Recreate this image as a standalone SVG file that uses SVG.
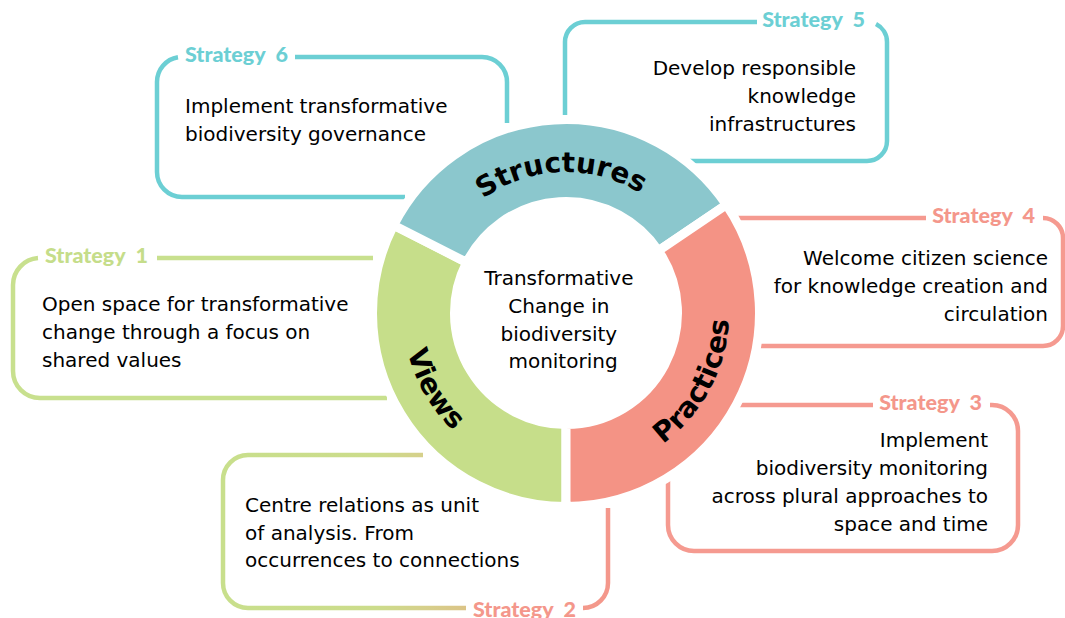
<svg xmlns="http://www.w3.org/2000/svg" width="1065" height="618" viewBox="0 0 1065 618">
  <style>
    .box { fill: none; stroke-width: 4.5; stroke-linecap: butt; }
    .teal { stroke: #6ccfd4; }
    .pink { stroke: #f59a90; }
    .green { stroke: #c8e08e; }
    .label { font-family: Lato, "Liberation Sans", sans-serif; font-weight: 900; font-size: 21.5px; }
    .lt { fill: #6ccfd4; }
    .lp { fill: #f4978b; }
    .lg { fill: #c5dd8a; }
    .body { font-family: "DejaVu Sans", Verdana, sans-serif; font-size: 20px; fill: #000; }
    .seg { stroke: #fff; stroke-width: 9; }
    .ringword { font-family: "DejaVu Sans", Verdana, sans-serif; font-weight: 700; font-size: 28px; fill: #000; }
  </style>
  <defs>
    <linearGradient id="mixStroke" gradientUnits="userSpaceOnUse" x1="223" y1="0" x2="608" y2="0">
      <stop offset="0" stop-color="#c8df8c"/>
      <stop offset="0.4" stop-color="#ccdc8b"/>
      <stop offset="0.52" stop-color="#d6d08b"/>
      <stop offset="0.63" stop-color="#dbc487"/>
      <stop offset="0.85" stop-color="#f29c8c"/>
      <stop offset="1" stop-color="#f4978b"/>
    </linearGradient>
    <path id="arcStructures" d="M433.5,264.8 A141,141 0 0 1 694.8,255.7"/>
    <path id="arcViews" d="M412.8,257.3 A163,163 0 0 0 537.7,473.5"/>
    <path id="arcPractices" d="M599.9,472.4 A163,163 0 0 0 717.1,251.9"/>
  </defs>

  <rect width="1065" height="618" fill="#fff"/>

  <!-- Strategy 6 -->
  <g id="strategy6">
    <path class="box teal" d="M405,197 H182 A25,25 0 0 1 157,172 V82 A25,25 0 0 1 178,57.3 M295,57 H482 A25,25 0 0 1 507,82 V123"/>
    <text class="label lt" x="185" y="62" xml:space="preserve">Strategy  6</text>
    <text class="body" x="185" y="113">Implement transformative</text>
    <text class="body" x="185" y="141">biodiversity governance</text>
  </g>

  <!-- Strategy 5 -->
  <g id="strategy5">
    <path class="box teal" d="M757,22 H585 A20,20 0 0 0 565,42 V115 M690,161 H867 A20,20 0 0 0 887,141 V42 A20,20 0 0 0 876,24.1"/>
    <text class="label lt" x="865" y="27" text-anchor="end" xml:space="preserve">Strategy  5</text>
    <text class="body" x="856" y="75" text-anchor="end">Develop responsible</text>
    <text class="body" x="856" y="103" text-anchor="end">knowledge</text>
    <text class="body" x="856" y="131" text-anchor="end">infrastructures</text>
  </g>

  <!-- Strategy 4 -->
  <g id="strategy4">
    <path class="box pink" d="M738,218 H926 M1043,218 A20,20 0 0 1 1063,238 V326 A20,20 0 0 1 1043,346 H760"/>
    <text class="label lp" x="1035" y="223" text-anchor="end" xml:space="preserve">Strategy  4</text>
    <text class="body" x="1048" y="265" text-anchor="end">Welcome citizen science</text>
    <text class="body" x="1048" y="293" text-anchor="end">for knowledge creation and</text>
    <text class="body" x="1048" y="321" text-anchor="end">circulation</text>
  </g>

  <!-- Strategy 3 -->
  <g id="strategy3">
    <path class="box pink" d="M738,405 H873 M990,405 H992 A26,26 0 0 1 1018,431 V525 A26,26 0 0 1 992,551 H694 A26,26 0 0 1 668,525 V480"/>
    <text class="label lp" x="982" y="410" text-anchor="end" xml:space="preserve">Strategy  3</text>
    <text class="body" x="988" y="447" text-anchor="end">Implement</text>
    <text class="body" x="988" y="475" text-anchor="end">biodiversity monitoring</text>
    <text class="body" x="988" y="503" text-anchor="end">across plural approaches to</text>
    <text class="body" x="988" y="531" text-anchor="end">space and time</text>
  </g>

  <!-- Strategy 2 -->
  <g id="strategy2">
    <path class="box" stroke="url(#mixStroke)" d="M423,455 H248 A25,25 0 0 0 223,480 V583 A25,25 0 0 0 248,608 H466 M583,608 A25,25 0 0 0 608,583 V508"/>
    <text class="label lp" x="473" y="617" xml:space="preserve">Strategy  2</text>
    <text class="body" x="245" y="512">Centre relations as unit</text>
    <text class="body" x="245" y="540">of analysis. From</text>
    <text class="body" x="245" y="567">occurrences to connections</text>
  </g>

  <!-- Strategy 1 -->
  <g id="strategy1">
    <path class="box green" d="M373,258 H157 M38,258.1 A27,27 0 0 0 13,285 V371 A27,27 0 0 0 40,398 H387"/>
    <text class="label lg" x="45" y="263" xml:space="preserve">Strategy  1</text>
    <text class="body" x="42" y="311">Open space for transformative</text>
    <text class="body" x="42" y="339">change through a focus on</text>
    <text class="body" x="42" y="367">shared values</text>
  </g>

  <!-- Ring segments -->
  <g id="views">
    <path class="seg" fill="#c6de8a" d="M566,506.5 A193.5,193.5 0 0 1 393.6,225.15 L466.65,262.38 A111.5,111.5 0 0 0 566,424.5 Z"/>
    <text class="ringword"><textPath href="#arcViews" startOffset="50%" text-anchor="middle">Views</textPath></text>
  </g>
  <g id="structures">
    <path class="seg" fill="#8bc7cd" d="M393.6,225.15 A193.5,193.5 0 0 1 726.4,204.8 L658.43,250.65 A111.5,111.5 0 0 0 466.65,262.38 Z"/>
    <text class="ringword"><textPath href="#arcStructures" startOffset="50%" text-anchor="middle">Structures</textPath></text>
  </g>
  <g id="practices">
    <path class="seg" fill="#f49385" d="M726.4,204.8 A193.5,193.5 0 0 1 566,506.5 L566,424.5 A111.5,111.5 0 0 0 658.43,250.65 Z"/>
    <text class="ringword"><textPath href="#arcPractices" startOffset="50%" text-anchor="middle">Practices</textPath></text>
  </g>

  <!-- Centre -->
  <g id="centre">
    <text class="body" text-anchor="middle">
      <tspan x="562" y="285">Transformative</tspan>
      <tspan x="562" y="313">Change in</tspan>
      <tspan x="562" y="341">biodiversity</tspan>
      <tspan x="563" y="368">monitoring</tspan>
    </text>
  </g>
</svg>
